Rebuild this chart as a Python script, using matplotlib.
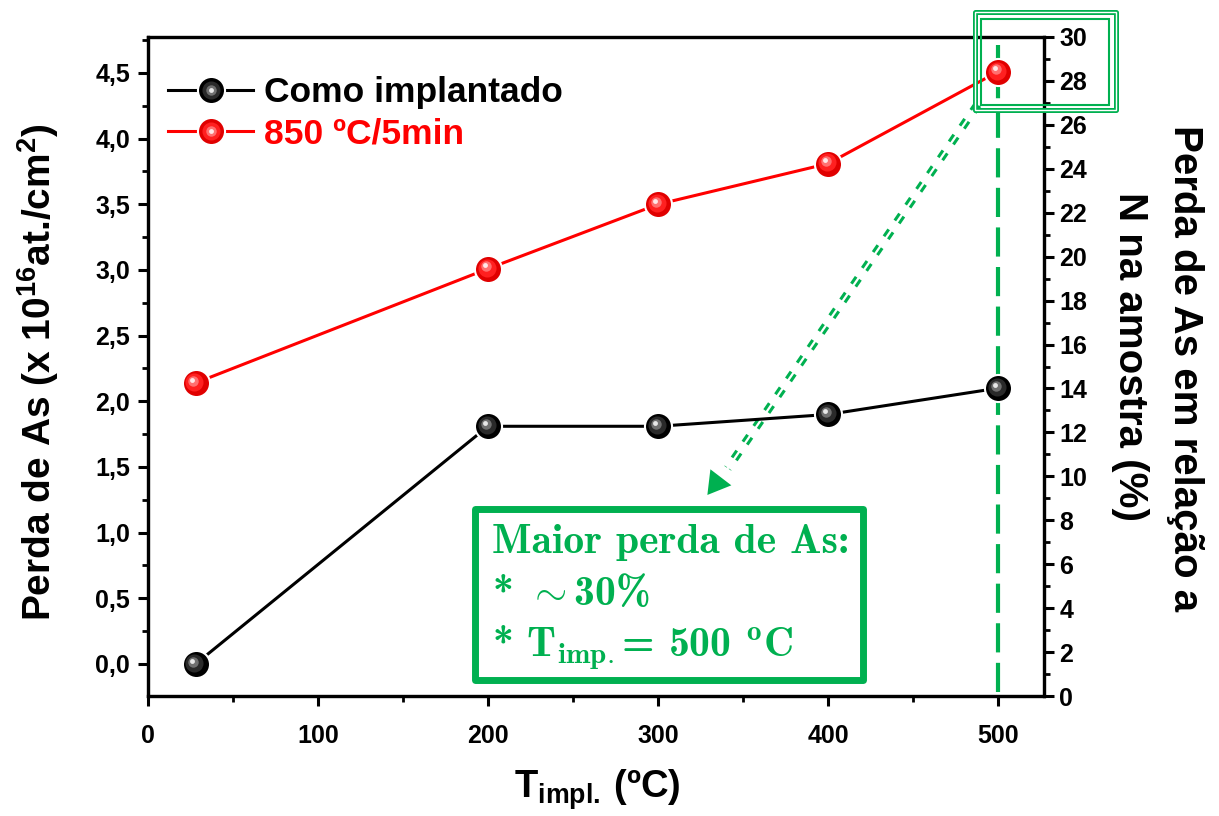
import os
import matplotlib
matplotlib.use("Agg")
import matplotlib.pyplot as plt
import matplotlib.transforms as mtransforms
from matplotlib.patches import Rectangle
from matplotlib.legend_handler import HandlerTuple
from matplotlib.font_manager import FontProperties
from matplotlib.ticker import MultipleLocator, FuncFormatter

# dados
t_impl = [28, 200, 300, 400, 500]
como_implantado = [0.00, 1.81, 1.81, 1.90, 2.10]
recozido_850 = [2.14, 3.01, 3.50, 3.81, 4.51]
labels = ["Como implantado", "850 ºC/5min"]

VERDE = "#00B050"

plt.rcParams["font.family"] = ["Liberation Sans", "DejaVu Sans"]
plt.rcParams["font.weight"] = "bold"
plt.rcParams["mathtext.fontset"] = "custom"
plt.rcParams["mathtext.rm"] = "Liberation Sans:bold"
plt.rcParams["mathtext.bf"] = "Liberation Sans:bold"

# Computer Modern bold (vem junto com o matplotlib)
cm_bold = FontProperties(fname=os.path.join(matplotlib.get_data_path(), "fonts", "ttf", "cmb10.ttf"), size=30)

W, H = 1219, 816
fig = plt.figure(figsize=(W / 100, H / 100), dpi=100)
ax = fig.add_axes([148 / W, 1 - 696 / H, (1044 - 148) / W, (696 - 37) / H])
ax2 = ax.twinx()


def esfera(x, y, cor, cores_brilho):
    # bolinha com brilho (imita marcador 3D do Origin)
    base, = ax.plot(x, y, color=cor, lw=2.2, marker="o", ms=19.5,
                    mfc=cores_brilho[0], mec="white", mew=1.5, zorder=3)
    hs = []
    for i, (c, s) in enumerate(zip(cores_brilho[1:], [13, 7.5, 3.5])):
        off = mtransforms.offset_copy(ax.transData, fig, x=-0.8 * (i + 1), y=0.8 * (i + 1), units="points")
        h, = ax.plot(x, y, ls="none", marker="o", ms=s, mfc=c, mec="none",
                     transform=off, zorder=4 + i)
        hs.append(h)
    return (base, *hs)


h1 = esfera(t_impl, como_implantado, "black", ["#000000", "#2a2a2a", "#707070", "#e8e8e8"])
h2 = esfera(t_impl, recozido_850, "red", ["#e00000", "#ff2020", "#ff7070", "#ffe8e8"])

ax.set_xlim(0, 527)
ax.set_ylim(-0.2437, 4.774)
ax2.set_ylim(0, 30)

ax.xaxis.set_major_locator(MultipleLocator(100))
ax.xaxis.set_minor_locator(MultipleLocator(50))
ax.yaxis.set_minor_locator(MultipleLocator(0.25))
ax.set_yticks([0, 0.5, 1, 1.5, 2, 2.5, 3, 3.5, 4, 4.5])
ax.yaxis.set_major_formatter(FuncFormatter(lambda v, p: f"{v:.1f}".replace(".", ",")))
ax2.yaxis.set_major_locator(MultipleLocator(2))
ax2.yaxis.set_minor_locator(MultipleLocator(1))

for a in (ax, ax2):
    for s in a.spines.values():
        s.set_linewidth(2.3)
    a.tick_params(which="major", length=7, width=2.2, labelsize=18, direction="out")
    a.tick_params(which="minor", length=4, width=2.0, direction="out")
ax.tick_params(axis="x", pad=13)
ax.tick_params(axis="y", pad=6)
ax2.tick_params(axis="y", pad=4)

# legenda
leg = ax.legend([h1, h2], labels, handler_map={tuple: HandlerTuple(ndivide=1, pad=0)},
                loc="upper left", bbox_to_anchor=(168 / W, 1 - 76 / H),
                bbox_transform=fig.transFigure, frameon=False, fontsize=25.5,
                handlelength=2.4, handletextpad=0.3, labelspacing=0.24,
                borderpad=0, borderaxespad=0)
leg.get_texts()[1].set_color("red")

# rótulos dos eixos
fig.text(38 / W, 1 - 372 / H, r"Perda de As (x 10$^{\mathbf{16}}$at./cm$^{\mathbf{2}}$)",
         rotation=90, ha="center", va="center", fontsize=28)
fig.text(597 / W, 1 - 790 / H, r"T$_{\mathbf{impl.}}\,$(ºC)", ha="center", va="center", fontsize=27.5)
fig.text(1185 / W, 1 - 368 / H, "Perda de As em relação a", rotation=270,
         ha="center", va="center", fontsize=29)
fig.text(1130 / W, 1 - 357 / H, "N na amostra (%)", rotation=270,
         ha="center", va="center", fontsize=29)

# linha vertical tracejada em 500 ºC
ax.plot([500, 500], [-0.213, 4.714], color=VERDE, lw=3, dashes=(7, 2.5), zorder=2)

# seta tracejada dupla
ax.plot([488, 341], [4.26, 1.49], color=VERDE, lw=6, dashes=(1.0, 1.3), zorder=2)
ax.plot([488, 341], [4.26, 1.49], color="white", lw=1.6, zorder=2)
ax.annotate("", xy=(329, 1.287), xytext=(341, 1.49),
            arrowprops=dict(arrowstyle="-|>,head_length=1.6,head_width=0.95",
                            color=VERDE, lw=0, shrinkA=0, shrinkB=0), zorder=5)

# caixa dupla em volta do ponto máximo
fig.add_artist(Rectangle((975 / W, 1 - 110 / H), 141 / W, 98 / H, transform=fig.transFigure,
                         fill=False, ec=VERDE, lw=3.6, joinstyle="round", clip_on=False))
fig.add_artist(Rectangle((975 / W, 1 - 110 / H), 141 / W, 98 / H, transform=fig.transFigure,
                         fill=False, ec="white", lw=1.0, clip_on=False))
fig.add_artist(Rectangle((981 / W, 1 - 104.5 / H), 128 / W, 86 / H, transform=fig.transFigure,
                         fill=False, ec=VERDE, lw=1.5, clip_on=False))

# caixa de texto
fig.add_artist(Rectangle((475.5 / W, 1 - 679.5 / H), 387 / W, 171 / H, transform=fig.transFigure,
                         fill=True, fc="white", ec=VERDE, lw=5, joinstyle="round",
                         clip_on=False, zorder=5))
linhas = ["Maior perda de As:",
          r"* $\sim$30%",
          r"* T$_{\mathbf{imp.}}$= 500 $^{\mathbf{o}}$C"]
for i, s in enumerate(linhas):
    fig.text(492 / W, 1 - (553 + 52 * i) / H, s, ha="left", va="baseline",
             fontproperties=cm_bold, color=VERDE, math_fontfamily="cm", zorder=6)

fig.savefig("out.png", dpi=100)
